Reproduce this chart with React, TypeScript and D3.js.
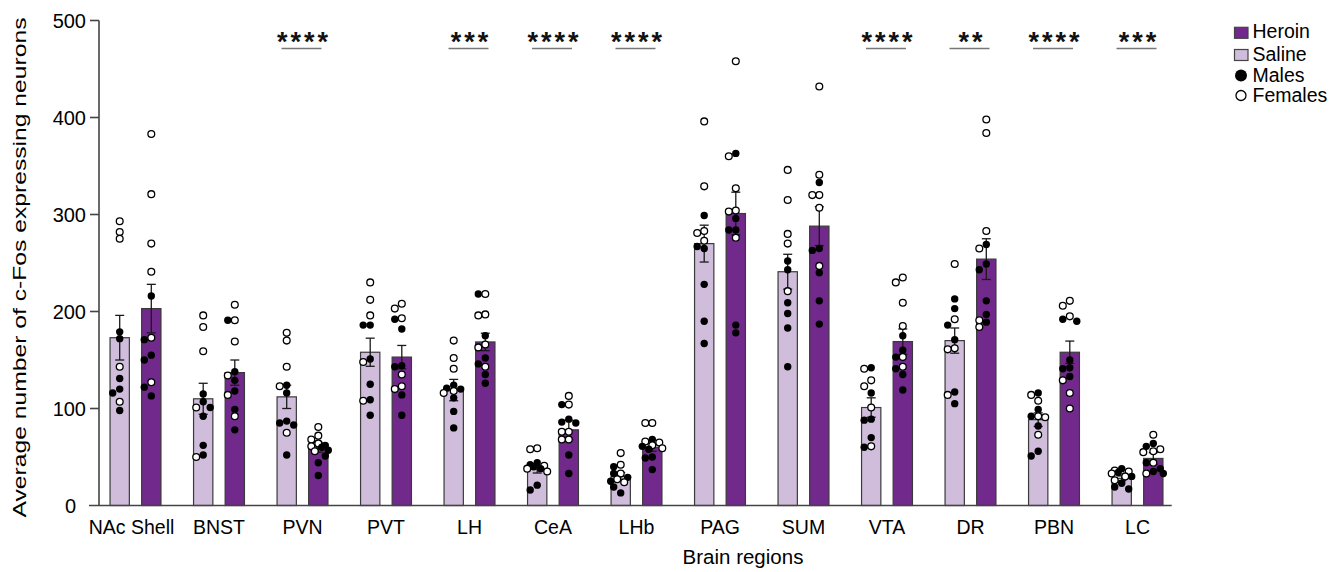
import React from 'react';
import * as d3 from 'd3';

const regions = ['NAc Shell', 'BNST', 'PVN', 'PVT', 'LH', 'CeA', 'LHb', 'PAG', 'SUM', 'VTA', 'DR', 'PBN', 'LC'];
const treatments = ['Saline', 'Heroin'];

const salineMean = [173, 110, 112, 158, 119, 37.5, 30, 270, 241, 101, 170, 88.5, 28];
const salineSem = [23, 16, 12, 14.5, 11, 4, 4, 19, 18, 10, 13, 7, 2.5];
const heroinMean = [203, 137, 60, 153, 168.6, 78, 60, 301, 288, 169, 254, 158, 48.5];
const heroinSem = [25, 13, 5, 12, 9, 10, 4, 22, 20, 13, 21, 11.5, 6];

const salineFemales = [
  [293, 282, 275, 143, 107],
  [196, 184, 159, 101, 50],
  [178, 170, 143, 123, 75],
  [230, 212, 196, 148, 108],
  [170, 152, 141, 116, 118],
  [59, 58, 41, 35, 38],
  [54, 42, 33, 24, 27],
  [396, 329, 283, 281, 273],
  [346, 315, 280, 270, 221],
  [141, 129, 123, 101, 61],
  [249, 192, 162, 161, 114],
  [114, 108, 92, 91, 73],
  [35, 36, 30, 26, 33],
];
const salineMales = [
  [179, 172, 131, 120, 116, 98],
  [115, 107, 101, 92, 62, 52],
  [124, 116, 87, 85, 83, 52],
  [186, 186, 151, 125, 109, 93],
  [124, 121, 120, 111, 97, 80],
  [44, 42, 40, 38, 21, 16],
  [40, 33, 29, 25, 19, 13],
  [299, 267, 265, 228, 190, 167],
  [252, 243, 209, 198, 183, 143],
  [142, 116, 89, 88, 70, 60],
  [213, 203, 186, 171, 117, 105],
  [116, 99, 92, 82, 56, 51],
  [38, 34, 30, 23, 19, 17],
];
const heroinFemales = [
  [383, 321, 270, 241, 173, 127],
  [207, 191, 169, 134, 114, 92],
  [81, 72, 68, 61, 64, 56],
  [208, 203, 193, 135, 123, 120],
  [218, 196, 197, 166, 163, 143],
  [113, 104, 76, 76, 68, 68],
  [85, 85, 66, 65, 59, 62],
  [458, 360, 327, 303, 304, 276],
  [432, 341, 320, 320, 307, 247],
  [235, 230, 209, 185, 153, 143],
  [398, 384, 283, 265, 191, 184],
  [211, 206, 195, 129, 116, 100],
  [73, 58, 55, 56, 44, 33],
];
const heroinMales = [
  [216, 171, 155, 150, 122, 113],
  [191, 138, 129, 118, 99, 78],
  [62, 60, 57, 51, 44, 31],
  [192, 182, 143, 144, 114, 93],
  [218, 175, 152, 146, 135, 126],
  [104, 86, 89, 85, 52, 33],
  [68, 61, 58, 50, 49, 37],
  [363, 296, 284, 284, 186, 178],
  [333, 263, 265, 240, 211, 187],
  [175, 160, 153, 141, 135, 119],
  [269, 249, 243, 211, 197, 189],
  [192, 190, 150, 141, 142, 133],
  [64, 61, 44, 38, 35, 33],
];

const significance = ['', '', '****', '', '***', '****', '****', '', '', '****', '**', '****', '***'];
const yTicks = [0, 100, 200, 300, 400, 500];

const legendItems = [
  { label: 'Heroin', kind: 'heroin' },
  { label: 'Saline', kind: 'saline' },
  { label: 'Males', kind: 'male' },
  { label: 'Females', kind: 'female' },
];

const HEROIN = '#72298c';
const SALINE = '#d0bddc';
const FONT = '"Liberation Sans", Arial, Helvetica, sans-serif';

type Pt = { v: number; male: boolean };

function dodge(points: Pt[], y: (v: number) => number) {
  const placed: { dx: number; cy: number; male: boolean }[] = [];
  const sorted = [...points].sort((a, b) => b.v - a.v);
  const cands = [0, -7, 7, -3.5, 3.5, -10, 10];
  for (const p of sorted) {
    const cy = y(p.v);
    let best = 0;
    let bestScore = -Infinity;
    for (const c of cands) {
      const minD = placed.length
        ? Math.min(...placed.map((q) => Math.hypot(q.dx - c, q.cy - cy)))
        : Infinity;
      if (minD >= 6.5) {
        best = c;
        bestScore = Infinity;
        break;
      }
      if (minD > bestScore) {
        bestScore = minD;
        best = c;
      }
    }
    placed.push({ dx: best, cy, male: p.male });
  }
  return placed;
}

export default function App() {
  const W = 1333;
  const H = 572;
  const y = d3.scaleLinear().domain([0, 500]).range([505.5, 20.5]);
  const xg = d3.scaleBand<string>().domain(regions).range([93.75, 1179.25]).padding(0);
  const xs = d3
    .scaleBand<string>()
    .domain(treatments)
    .range([0, xg.bandwidth()])
    .paddingInner(0.389)
    .paddingOuter(0.516);
  const bw = xs.bandwidth();
  const r = 3.4;
  const capW = 9;

  const groups = regions.map((reg, i) => {
    const g0 = xg(reg) as number;
    const sets = [
      { t: 'Saline', mean: salineMean[i], sem: salineSem[i], fem: salineFemales[i], mal: salineMales[i], fill: SALINE },
      { t: 'Heroin', mean: heroinMean[i], sem: heroinSem[i], fem: heroinFemales[i], mal: heroinMales[i], fill: HEROIN },
    ];
    return { reg, i, g0, sets };
  });

  return (
    <svg
      width={W}
      height={H}
      style={{ position: 'absolute', left: 0, top: 0, background: '#fff' }}
      fontFamily={FONT}
    >
      {groups.map(({ reg, g0, sets }) => (
        <g key={reg}>
          {sets.map((s) => {
            const bx = g0 + (xs(s.t) as number);
            const cx = bx + bw / 2;
            const pts: Pt[] = [
              ...s.fem.map((v) => ({ v, male: false })),
              ...s.mal.map((v) => ({ v, male: true })),
            ];
            const placed = dodge(pts, (v) => y(v));
            return (
              <g key={s.t}>
                <rect
                  x={bx}
                  y={y(s.mean)}
                  width={bw}
                  height={y(0) - y(s.mean)}
                  fill={s.fill}
                  stroke="#3a3a3a"
                  strokeWidth={1.2}
                />
                <g stroke="#1a1a1a" strokeWidth={1.3}>
                  <line x1={cx} x2={cx} y1={y(s.mean + s.sem)} y2={y(s.mean - s.sem)} />
                  <line x1={cx - capW / 2} x2={cx + capW / 2} y1={y(s.mean + s.sem)} y2={y(s.mean + s.sem)} />
                  <line x1={cx - capW / 2} x2={cx + capW / 2} y1={y(s.mean - s.sem)} y2={y(s.mean - s.sem)} />
                </g>
                {placed.map((p, k) => (
                  <circle
                    key={k}
                    cx={cx + p.dx}
                    cy={p.cy}
                    r={p.male ? r + 0.3 : r}
                    fill={p.male ? '#000' : '#fff'}
                    stroke="#000"
                    strokeWidth={p.male ? 0 : 1.3}
                  />
                ))}
              </g>
            );
          })}
        </g>
      ))}

      <line x1={99} x2={99} y1={y(500)} y2={y(0)} stroke="#444" strokeWidth={1.6} />
      <line x1={89} x2={1171.7} y1={y(0)} y2={y(0)} stroke="#444" strokeWidth={1.6} />
      {yTicks.map((t) =>
        t === 0 ? (
          <text key={t} x={76} y={y(t)} textAnchor="end" dominantBaseline="central" fontSize={20} fill="#000">
            {t}
          </text>
        ) : (
          <g key={t}>
            <line x1={90} x2={99} y1={y(t)} y2={y(t)} stroke="#444" strokeWidth={1.6} />
            <text x={86} y={y(t)} textAnchor="end" dominantBaseline="central" fontSize={20} fill="#000">
              {t}
            </text>
          </g>
        )
      )}

      {regions.map((reg) => (
        <text
          key={reg}
          x={(xg(reg) as number) + xg.bandwidth() / 2 - (reg === 'NAc Shell' ? 4 : 0)}
          y={534}
          textAnchor="middle"
          fontSize={19.5}
          fill="#000"
        >
          {reg}
        </text>
      ))}
      <text x={743} y={564} textAnchor="middle" fontSize={20.5} fill="#000">
        Brain regions
      </text>
      <text
        transform={`translate(26, ${267.5}) rotate(-90)`}
        textAnchor="middle"
        fontSize={19}
        textLength={500}
        lengthAdjust="spacingAndGlyphs"
        fill="#000"
      >
        Average number of c-Fos expressing neurons
      </text>

      {groups.map(({ reg, i, g0 }) =>
        significance[i] ? (
          <g key={'sig' + reg}>
            <line
              x1={g0 + xg.bandwidth() / 2 - 21}
              x2={g0 + xg.bandwidth() / 2 + 19}
              y1={48.5}
              y2={48.5}
              stroke="#777"
              strokeWidth={1.5}
            />
            <text
              x={g0 + xg.bandwidth() / 2 + 1.5}
              y={51}
              textAnchor="middle"
              fontSize={27}
              fontWeight="bold"
              letterSpacing={3}
              fill="#111"
            >
              {significance[i]}
            </text>
          </g>
        ) : null
      )}

      {legendItems.map((it, k) => {
        const base = [38.3, 60.5, 82, 102][k];
        return (
          <g key={it.label}>
            {it.kind === 'heroin' || it.kind === 'saline' ? (
              <rect
                x={1234.5}
                y={base - 11}
                width={13.5}
                height={11}
                fill={it.kind === 'heroin' ? HEROIN : SALINE}
                stroke="#444"
                strokeWidth={1.2}
              />
            ) : it.kind === 'male' ? (
              <circle cx={1241} cy={base - 6.5} r={6} fill="#000" />
            ) : (
              <circle cx={1241} cy={base - 6.5} r={5} fill="#fff" stroke="#000" strokeWidth={1.3} />
            )}
            <text x={1252.5} y={base} fontSize={19.5} fill="#000">
              {it.label}
            </text>
          </g>
        );
      })}
    </svg>
  );
}
